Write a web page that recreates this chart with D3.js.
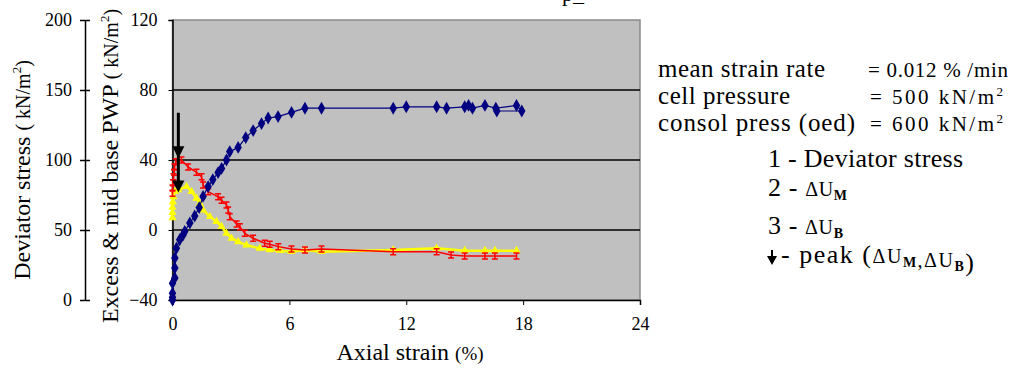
<!DOCTYPE html>
<html>
<head>
<meta charset="utf-8">
<script src="https://cdn.jsdelivr.net/npm/d3@7"></script>
<style>
  body { margin: 0; background: #fff; }
  text { font-family: "Liberation Serif", "Times New Roman", serif; fill: #000; }
</style>
</head>
<body>
<svg id="chart" width="1014" height="370"></svg>
<script>
var width = 1014, height = 370;

// axis ticks
var strainTicks = [0, 6, 12, 18, 24];
var deviatorTicks = [0, 50, 100, 150, 200];
var pwpTicks = [-40, 0, 40, 80, 120];

// 1 - deviator stress (kN/m2) vs axial strain (%)
var devStrain = [0, 0, 0, 0, 0.12, 0.12, 0.12, 0.2, 0.37, 0.54, 0.63, 0.89, 1.14, 1.37, 1.57, 1.83, 2.07, 2.34, 2.52, 2.77, 2.94, 3.37, 3.76, 4.14, 4.57, 4.91, 5.42, 6.11, 6.8, 7.65, 11.33, 12.0, 13.56, 14.07, 15.0, 15.2, 15.4, 16.04, 16.6, 17.66, 17.93, 16.65];
var devStress = [0, 2, 4.8, 12, 15.7, 22.9, 30, 37, 43, 46.4, 49, 55, 60, 66, 74, 81, 86, 91, 94, 100, 106, 109, 116, 121, 126, 130, 131, 134, 137, 137, 137, 138, 138, 137, 138, 139, 137, 139, 137, 139, 135, 135];

// 2 - delta U_M (kN/m2)
var umStrain = [0, 0, 0.03, 0.05, 0.08, 0.1, 0.17, 0.46, 0.8, 1.23, 1.49, 1.57, 1.83, 2.34, 2.52, 2.77, 2.86, 2.94, 3.29, 3.46, 3.71, 4.14, 4.74, 4.99, 5.43, 6.11, 6.8, 7.65, 11.33, 13.56, 14.3, 15.0, 16.04, 16.55, 17.66];
var umPwp = [21, 24, 27, 30.5, 33, 36, 39, 40, 36, 33, 30.5, 25.7, 21.9, 19, 17, 14.3, 11.4, 7.6, 3.4, 1.9, -1.9, -4.7, -7.6, -8.2, -9.5, -10.9, -11.4, -10.9, -12.4, -12.4, -14.3, -14.9, -14.9, -14.9, -14.9];

// 3 - delta U_B (kN/m2)
var ubStrain = [0, 0, 0, 0.02, 0.05, 0.12, 0.29, 0.72, 0.98, 1.23, 1.4, 1.57, 1.92, 2.26, 2.52, 2.77, 3.03, 3.37, 3.8, 4.48, 4.99, 5.51, 6.11, 6.8, 7.65, 11.33, 13.56, 15.0, 16.04, 16.55, 17.66];
var ubPwp = [7, 10, 13, 16, 19, 21.9, 22.9, 24.8, 21.9, 18.1, 15.2, 11.4, 7.6, 4.8, 1.9, -1.9, -4.7, -6.7, -8.6, -10.5, -11.4, -11.8, -12.4, -11.4, -12.4, -11.4, -10.5, -11.8, -11.8, -11.8, -11.8];

// peak arrows (strain %, pwp at tip)
var peakStrain = [0.3, 0.3];
var peakPwp = [41, 21.5];
var arrowTop = 67;

var svg = d3.select("#chart").attr("viewBox", `0 0 ${width} ${height}`);

var x = d3.scaleLinear().domain([0, 24]).range([172.5, 640]);
var yDev = d3.scaleLinear().domain([0, 200]).range([300, 20]);
var yPwp = d3.scaleLinear().domain([-40, 120]).range([300, 20]);

// cut-off title at top (only its descenders show, as in the original)
svg.append("text").attr("x", 562).attr("y", 1).style("font-size", "22px").text("p_");

// plot area
svg.append("rect")
    .attr("x", x(0)).attr("y", yPwp(120))
    .attr("width", x(24) - x(0)).attr("height", yPwp(-40) - yPwp(120))
    .attr("fill", "#c0c0c0").attr("stroke", "#8a8a8a").attr("stroke-width", 1.5);

svg.append("g").selectAll("line")
    .data([0, 40, 80])
    .enter().append("line")
    .attr("x1", x(0)).attr("x2", x(24))
    .attr("y1", d => yPwp(d)).attr("y2", d => yPwp(d))
    .attr("stroke", "#000").attr("stroke-width", 1.5);

// x axis
var xAxis = svg.append("g")
    .attr("transform", `translate(0,${yPwp(-40)})`)
    .call(d3.axisBottom(x).tickValues(strainTicks).tickSize(5).tickPadding(12));
xAxis.select(".domain").attr("stroke-width", 1.5);
xAxis.selectAll("text").style("font-size", "18px").style("font-family", "Liberation Serif");

// pwp axis
var pwpAxis = svg.append("g")
    .attr("transform", `translate(${x(0)},0)`)
    .call(d3.axisLeft(yPwp).tickValues(pwpTicks).tickSize(4).tickPadding(11));
pwpAxis.select(".domain").attr("stroke-width", 1.5);
pwpAxis.selectAll("text").style("font-size", "18px").style("font-family", "Liberation Serif");

// deviator axis
var devAxis = svg.append("g")
    .attr("transform", "translate(85,0)")
    .call(d3.axisLeft(yDev).tickValues(deviatorTicks).tickSizeInner(5).tickSizeOuter(0).tickPadding(8));
devAxis.select(".domain").attr("stroke-width", 1.5);
devAxis.selectAll(".tick line").attr("x1", -5).attr("x2", 5).attr("stroke-width", 1.5);
devAxis.selectAll("text").style("font-size", "18px").style("font-family", "Liberation Serif");

// axis titles
var devTitle = svg.append("text")
    .attr("transform", "translate(30,170) rotate(-90)")
    .attr("text-anchor", "middle").style("font-size", "24px");
devTitle.append("tspan").text("Deviator stress ");
devTitle.append("tspan").style("font-size", "20px").text("( kN/m");
devTitle.append("tspan").style("font-size", "13px").attr("dy", -9).text("2");
devTitle.append("tspan").style("font-size", "20px").attr("dy", 9).text(")");

var pwpTitle = svg.append("text")
    .attr("transform", "translate(118,166) rotate(-90)")
    .attr("text-anchor", "middle").style("font-size", "24px");
pwpTitle.append("tspan").text("Excess & mid base PWP ");
pwpTitle.append("tspan").style("font-size", "20px").text("( kN/m");
pwpTitle.append("tspan").style("font-size", "13px").attr("dy", -9).text("2");
pwpTitle.append("tspan").style("font-size", "20px").attr("dy", 9).text(")");

var xTitle = svg.append("text")
    .attr("x", 410).attr("y", 360)
    .attr("text-anchor", "middle").style("font-size", "24px");
xTitle.append("tspan").text("Axial strain ");
xTitle.append("tspan").style("font-size", "19px").text("(%)");

// markers
var diamond = d3.symbol().type(d3.symbolDiamond).size(48);
var triangle = d3.symbol().type(d3.symbolTriangle).size(30);

function series(xs, ys, yScale) {
    return xs.map((v, i) => [x(v), yScale(ys[i])]);
}

var ubPts = series(ubStrain, ubPwp, yPwp);
var umPts = series(umStrain, umPwp, yPwp);
var devPts = series(devStrain, devStress, yDev);

// 3 - U_B yellow
svg.append("path").attr("d", d3.line()(ubPts))
    .attr("fill", "none").attr("stroke", "#ffff00").attr("stroke-width", 2.5);
svg.append("g").selectAll("path").data(ubPts).enter().append("path")
    .attr("d", triangle).attr("transform", d => `translate(${d[0]},${d[1]})`)
    .attr("fill", "#ffff00");

// 2 - U_M red
svg.append("path").attr("d", d3.line()(umPts))
    .attr("fill", "none").attr("stroke", "#ff0000").attr("stroke-width", 1.5);
svg.append("g").selectAll("path").data(umPts).enter().append("path")
    .attr("d", d => `M${d[0] - 3},${d[1] - 3}h6M${d[0]},${d[1] - 3}v6M${d[0] - 3},${d[1] + 3}h6`)
    .attr("stroke", "#ff0000").attr("stroke-width", 1.5).attr("fill", "none");

// 1 - deviator navy
svg.append("path").attr("d", d3.line()(devPts))
    .attr("fill", "none").attr("stroke", "#000080").attr("stroke-width", 1.2);
svg.append("g").selectAll("path").data(devPts).enter().append("path")
    .attr("d", diamond).attr("transform", d => `translate(${d[0]},${d[1]})`)
    .attr("fill", "#000080");

// peak arrows
var ax = x(peakStrain[0]);
svg.append("line")
    .attr("x1", ax).attr("x2", ax)
    .attr("y1", yPwp(arrowTop)).attr("y2", yPwp(peakPwp[1]) - 6)
    .attr("stroke", "#000").attr("stroke-width", 3);
svg.append("g").selectAll("path").data(peakPwp).enter().append("path")
    .attr("d", d => `M${ax - 6},${yPwp(d) - 12}L${ax + 6},${yPwp(d) - 12}L${ax},${yPwp(d)}Z`)
    .attr("fill", "#000");

// legend / notes
var notes = svg.append("g").style("font-size", "25px");
var noteLabels = ["mean strain rate", "cell pressure", "consol press (oed)"];
var noteY = [77, 104, 131];
var noteLen = [167, 132, 197];
notes.selectAll("text.lab").data(noteLabels).enter().append("text")
    .attr("x", 658).attr("y", (d, i) => noteY[i])
    .attr("textLength", (d, i) => noteLen[i]).attr("lengthAdjust", "spacing")
    .text(d => d);

var v1 = notes.append("text").attr("x", 868).attr("y", 77).style("font-size", "21px")
    .attr("textLength", 140).attr("lengthAdjust", "spacing");
v1.text("=  0.012 % /min");
var v2 = notes.append("text").attr("x", 870).attr("y", 104).style("font-size", "21px")
    .attr("textLength", 133).attr("lengthAdjust", "spacing");
v2.append("tspan").text("=  500 kN/m");
v2.append("tspan").attr("dy", -8).style("font-size", "13px").text("2");
var v3 = notes.append("text").attr("x", 870).attr("y", 131).style("font-size", "21px")
    .attr("textLength", 133).attr("lengthAdjust", "spacing");
v3.append("tspan").text("=  600 kN/m");
v3.append("tspan").attr("dy", -8).style("font-size", "13px").text("2");

notes.append("text").attr("x", 768).attr("y", 167).style("font-size", "26px")
    .attr("textLength", 195).attr("lengthAdjust", "spacing")
    .text("1 - Deviator stress");

function deltaU(t, sub) {
    t.append("tspan").style("font-size", "20px").text("\u0394U");
    t.append("tspan").attr("dy", 4).style("font-size", "14px").style("font-weight", "bold").text(sub);
    t.append("tspan").attr("dy", -4).text("");
}
var l2 = notes.append("text").attr("x", 768).attr("y", 196).style("font-size", "26px")
    .attr("textLength", 79).attr("lengthAdjust", "spacing");
l2.append("tspan").text("2 - ");
deltaU(l2, "M");
var l3 = notes.append("text").attr("x", 768).attr("y", 234).style("font-size", "26px")
    .attr("textLength", 75).attr("lengthAdjust", "spacing");
l3.append("tspan").text("3 - ");
deltaU(l3, "B");

notes.append("path")
    .attr("d", "M771,250v6h-4l5,9l5,-9h-4v-6z")
    .attr("fill", "#000");
var l4 = notes.append("text").attr("x", 781).attr("y", 263).style("font-size", "26px")
    .attr("textLength", 193).attr("lengthAdjust", "spacing");
l4.append("tspan").text("- peak  (");
deltaU(l4, "M");
l4.append("tspan").style("font-size", "20px").text(",");
deltaU(l4, "B");
l4.append("tspan").text(")");
</script>
</body>
</html>
